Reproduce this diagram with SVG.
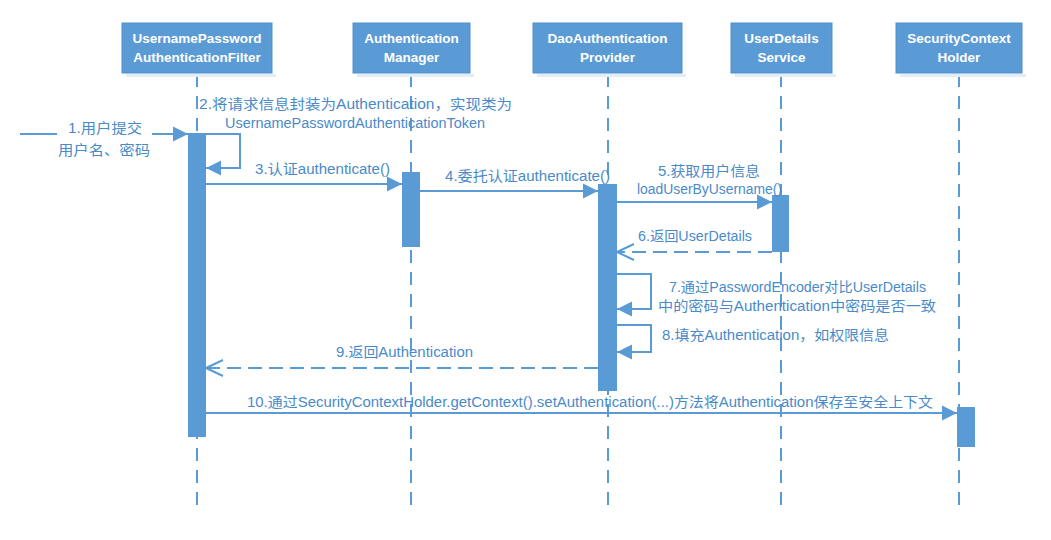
<svg xmlns="http://www.w3.org/2000/svg" width="1051" height="540" viewBox="0 0 1051 540">
  <defs>
    <style>
      .box { fill: #5b9bd5; stroke: #4f8fcc; stroke-width: 1; }
      .shadow { fill: #e3edf7; }
      .title { font-family: "Liberation Sans", "Noto Sans CJK SC", sans-serif; font-size: 13.5px; font-weight: bold; fill: #ffffff; text-anchor: middle; }
      .life { stroke: #5b9bd5; stroke-width: 2; stroke-dasharray: 13 9; fill: none; }
      .act { fill: #5b9bd5; }
      .msg { stroke: #5b9bd5; stroke-width: 2; fill: none; }
      .ret { stroke: #5b9bd5; stroke-width: 2; fill: none; stroke-dasharray: 14 7; }
      .lbl { font-family: "Liberation Sans", "Noto Sans CJK SC", sans-serif; font-size: 14px; fill: #4a8ac9; }
    </style>
    <marker id="solid" markerUnits="userSpaceOnUse" markerWidth="16" markerHeight="16" viewBox="0 0 16 16" refX="15" refY="8" orient="auto">
      <path d="M0,0.5 L15,8 L0,15.5 Z" fill="#5b9bd5"/>
    </marker>
    <marker id="open" markerUnits="userSpaceOnUse" markerWidth="20" markerHeight="20" viewBox="0 0 20 20" refX="18" refY="10" orient="auto">
      <path d="M1,2 L18,10 L1,18" fill="none" stroke="#5b9bd5" stroke-width="2"/>
    </marker>
  </defs>
  <rect width="1051" height="540" fill="#ffffff"/>

  <!-- lifelines -->
  <g id="lifelines">
    <line class="life" x1="197" y1="74" x2="197" y2="505"/>
    <line class="life" x1="411" y1="74" x2="411" y2="505"/>
    <line class="life" x1="608" y1="74" x2="608" y2="505"/>
    <line class="life" x1="781" y1="74" x2="781" y2="505"/>
    <line class="life" x1="959" y1="74" x2="959" y2="505"/>
  </g>

  <!-- participants -->
  <g id="filter">
    <rect class="shadow" x="126" y="74" width="150" height="3"/>
    <rect class="box" x="122" y="23" width="150" height="50"/>
    <text class="title" x="197" y="43">UsernamePassword</text>
    <text class="title" x="197" y="62">AuthenticationFilter</text>
  </g>
  <g id="manager">
    <rect class="shadow" x="357" y="74" width="117" height="3"/>
    <rect class="box" x="353" y="23" width="117" height="50"/>
    <text class="title" x="411.5" y="43">Authentication</text>
    <text class="title" x="411.5" y="62">Manager</text>
  </g>
  <g id="provider">
    <rect class="shadow" x="537" y="74" width="149" height="3"/>
    <rect class="box" x="533" y="23" width="149" height="50"/>
    <text class="title" x="607.5" y="43">DaoAuthentication</text>
    <text class="title" x="607.5" y="62">Provider</text>
  </g>
  <g id="userdetails">
    <rect class="shadow" x="735" y="74" width="101" height="3"/>
    <rect class="box" x="731" y="23" width="101" height="50"/>
    <text class="title" x="781.5" y="43">UserDetails</text>
    <text class="title" x="781.5" y="62">Service</text>
  </g>
  <g id="contextholder">
    <rect class="shadow" x="900" y="74" width="126" height="3"/>
    <rect class="box" x="896" y="23" width="126" height="50"/>
    <text class="title" x="959" y="43">SecurityContext</text>
    <text class="title" x="959" y="62">Holder</text>
  </g>

  <!-- activation bars -->
  <g id="activations">
    <rect class="act" x="188" y="133" width="18" height="304"/>
    <rect class="act" x="402" y="172" width="18" height="75"/>
    <rect class="act" x="598" y="184" width="19" height="207"/>
    <rect class="act" x="772" y="195" width="17" height="57"/>
    <rect class="act" x="957" y="407" width="18" height="40"/>
  </g>

  <!-- messages -->
  <g id="connectors">
    <line class="msg" x1="20" y1="134" x2="57" y2="134"/>
    <line class="msg" x1="152" y1="134" x2="188" y2="134" marker-end="url(#solid)"/>
    <path class="msg" d="M206,134 H240 V168 H206" marker-end="url(#solid)"/>
    <line class="msg" x1="206" y1="184" x2="402" y2="184" marker-end="url(#solid)"/>
    <line class="msg" x1="420" y1="191" x2="598" y2="191" marker-end="url(#solid)"/>
    <line class="msg" x1="617" y1="202" x2="772" y2="202" marker-end="url(#solid)"/>
    <line class="ret" x1="772" y1="252" x2="617" y2="252" marker-end="url(#open)"/>
    <path class="msg" d="M617,274 H651 V309 H617" marker-end="url(#solid)"/>
    <path class="msg" d="M617,325 H651 V352 H617" marker-end="url(#solid)"/>
    <line class="ret" x1="598" y1="368" x2="206" y2="368" marker-end="url(#open)"/>
    <line class="msg" x1="206" y1="413" x2="957" y2="413" marker-end="url(#solid)"/>
  </g>

  <!-- message labels -->
  <g id="labels">
    <text class="lbl" x="68" y="133" textLength="74" lengthAdjust="spacingAndGlyphs">1.用户提交</text>
    <text class="lbl" x="58" y="155" textLength="92" lengthAdjust="spacingAndGlyphs">用户名、密码</text>
    <text class="lbl" x="199" y="109" textLength="313" lengthAdjust="spacingAndGlyphs">2.将请求信息封装为Authentication，实现类为</text>
    <text class="lbl" x="225" y="128" textLength="260" lengthAdjust="spacingAndGlyphs">UsernamePasswordAuthenticationToken</text>
    <text class="lbl" x="255" y="174" textLength="135" lengthAdjust="spacingAndGlyphs">3.认证authenticate()</text>
    <text class="lbl" x="445" y="181" textLength="165" lengthAdjust="spacingAndGlyphs">4.委托认证authenticate()</text>
    <text class="lbl" x="658" y="176" textLength="102" lengthAdjust="spacingAndGlyphs">5.获取用户信息</text>
    <text class="lbl" x="637" y="194" textLength="145" lengthAdjust="spacingAndGlyphs">loadUserByUsername()</text>
    <text class="lbl" x="638" y="241" textLength="114" lengthAdjust="spacingAndGlyphs">6.返回UserDetails</text>
    <text class="lbl" x="669" y="292" textLength="257" lengthAdjust="spacingAndGlyphs">7.通过PasswordEncoder对比UserDetails</text>
    <text class="lbl" x="658" y="311" textLength="278" lengthAdjust="spacingAndGlyphs">中的密码与Authentication中密码是否一致</text>
    <text class="lbl" x="662" y="340" textLength="227" lengthAdjust="spacingAndGlyphs">8.填充Authentication，如权限信息</text>
    <text class="lbl" x="336" y="357" textLength="137" lengthAdjust="spacingAndGlyphs">9.返回Authentication</text>
    <text class="lbl" x="247" y="407" textLength="686" lengthAdjust="spacingAndGlyphs">10.通过SecurityContextHolder.getContext().setAuthentication(...)方法将Authentication保存至安全上下文</text>
  </g>
</svg>
